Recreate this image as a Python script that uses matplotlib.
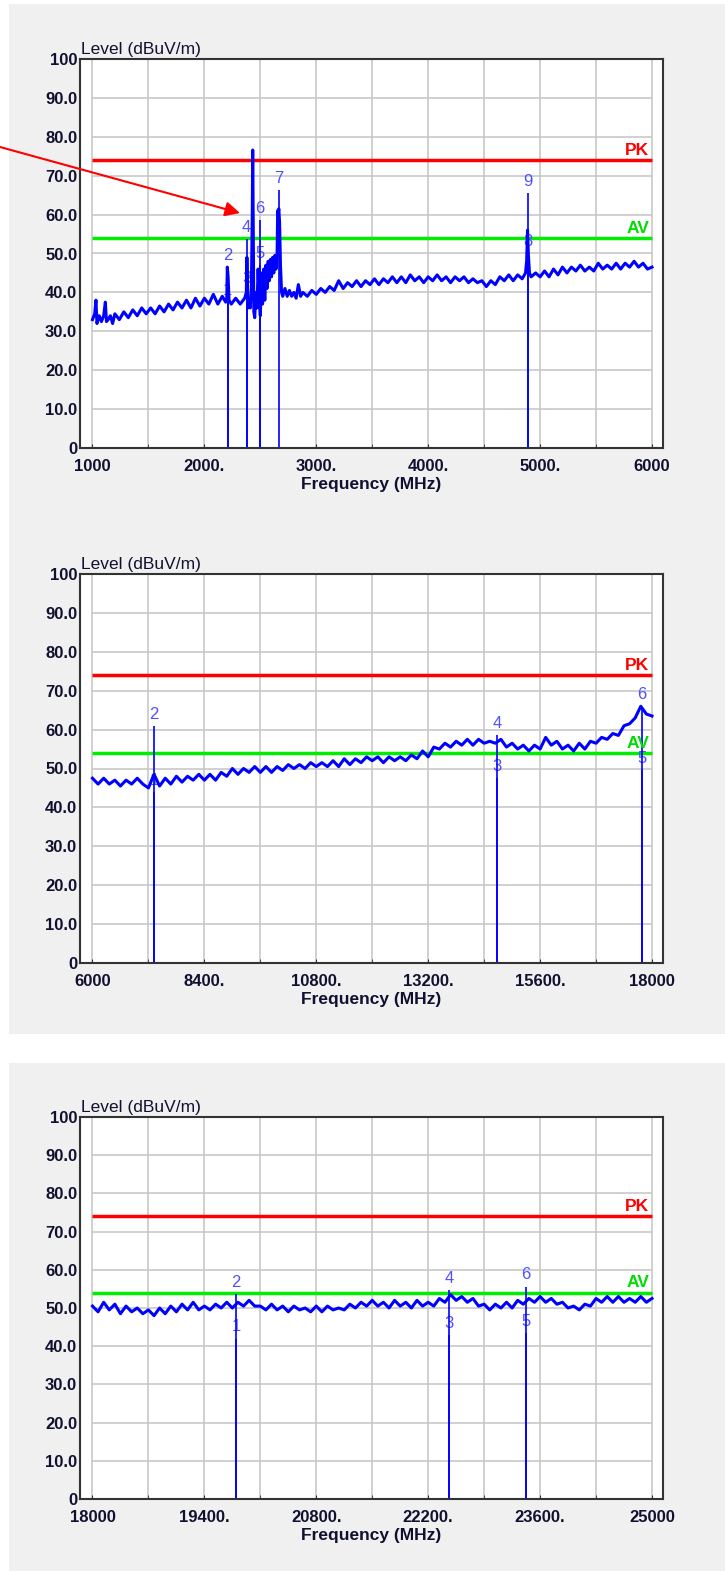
import matplotlib
matplotlib.use('Agg')
from matplotlib import pyplot as plt
from matplotlib.patches import Rectangle
import numpy as np

# %% Data

# Panel 1 : 1 - 6 GHz (irregular sampling, detail around the carrier)
freq1 = [1000, 1020, 1031, 1040, 1060, 1080, 1100, 1115, 1125, 1140, 1160, 1180, 1200, 1240, 1280,
         1320, 1360, 1400, 1440, 1480, 1520, 1560, 1600, 1640, 1680, 1720, 1760, 1800, 1840,
         1880, 1920, 1960, 2000, 2040, 2080, 2120, 2160, 2190, 2200, 2205, 2212, 2220, 2240,
         2280, 2320, 2360, 2375, 2380, 2385, 2390, 2400, 2410, 2420, 2428, 2432, 2436, 2442,
         2450, 2460, 2470, 2480, 2490, 2500, 2510, 2520, 2530, 2540, 2550, 2560, 2570, 2580,
         2590, 2600, 2610, 2620, 2630, 2640, 2650, 2655, 2660, 2665, 2672, 2680, 2690, 2700,
         2720, 2740, 2760, 2780, 2800, 2820, 2840, 2860, 2880, 2920, 2960, 3000, 3040, 3080,
         3120, 3160, 3200, 3240, 3280, 3320, 3360, 3400, 3440, 3480, 3520, 3560, 3600, 3640,
         3680, 3720, 3760, 3800, 3840, 3880, 3920, 3960, 4000, 4040, 4080, 4120, 4160, 4200,
         4240, 4280, 4320, 4360, 4400, 4440, 4480, 4520, 4560, 4600, 4640, 4680, 4720, 4760,
         4800, 4840, 4870, 4880, 4888, 4895, 4905, 4920, 4960, 5000, 5040, 5080, 5120, 5160,
         5200, 5240, 5280, 5320, 5360, 5400, 5440, 5480, 5520, 5560, 5600, 5640, 5680, 5720,
         5760, 5800, 5840, 5880, 5920, 5960, 6000]
level1 = [33, 34.5, 38, 32, 34, 32.5, 34, 37.5, 32.5, 33, 34, 32, 34.5, 33, 35,
          33.5, 35.5, 34, 36, 34.5, 36, 34.5, 36.5, 35, 37, 35.5, 37.5, 36, 38,
          36, 38.5, 36.5, 38.5, 37, 39.5, 37, 39, 37.5, 38, 46.5, 44, 38, 37,
          38.5, 37, 38.5, 40, 49, 42, 36, 38, 36, 41, 60, 76.6, 60, 35,
          33.5, 40, 36, 46, 38, 34, 45, 37, 46, 38, 47, 41, 48, 43,
          48.5, 44, 49, 45, 49.5, 46, 50, 61, 60, 61.5, 58, 47, 40, 39,
          41, 39, 40.5, 39, 40, 38.5, 42, 39, 40, 39, 40.5, 39.5, 41, 40,
          41.5, 40.5, 43, 41, 42.5, 41.5, 43, 41.5, 43, 42, 43.5, 42, 43.5, 42.5,
          44, 42.5, 44, 42.5, 44.5, 43, 44, 42.5, 44, 43, 44.5, 43, 44, 42.5,
          44, 43, 44, 42.5, 43.5, 42.5, 43, 41.5, 43, 42, 44, 43, 44.5, 43,
          44.5, 43.5, 45, 48, 56, 50, 45, 44, 45, 44, 45.5, 44, 46, 44.5,
          46.5, 45, 46.5, 45.5, 47, 45.5, 46.5, 45.5, 47.5, 46, 47, 46, 47.5, 46,
          47.5, 46.5, 48, 46.5, 47.5, 46, 46.5]

# Panel 2 : 6 - 18 GHz sweep
sweep2 = (6000, 18000)
level2 = [47.5, 46, 47.5, 46, 47, 45.5, 47, 46, 47.5, 46,
          45, 48.5, 45.5, 47.5, 46, 48, 46.5, 48, 47, 48.5,
          47, 48.5, 47, 49, 48, 50, 48.5, 50, 49, 50.5,
          49, 50.5, 49, 50.5, 49.5, 51, 50, 51, 50, 51.5,
          50.5, 51.5, 50.5, 52, 50.5, 52.5, 51, 52.5, 51.5, 53,
          52, 53, 51.5, 53, 52, 53, 52, 53.5, 52.5, 54.5,
          53, 55.5, 55, 56.5, 55.5, 57, 56, 57.5, 56, 57.5,
          56.5, 57, 56.5, 57.5, 55.5, 56.5, 55, 56, 54.5, 56,
          55, 58, 56, 57, 55, 56, 54.5, 56.5, 55, 57,
          56.5, 58, 57.5, 59, 58.5, 61, 61.5, 63, 66, 64, 63.5]

# Panel 3 : 18 - 25 GHz sweep
sweep3 = (18000, 25000)
level3 = [50.5, 49, 51.5, 49.5, 51, 48.5, 50.5, 49, 50, 48.5,
          49.5, 48, 50, 48.5, 50.5, 49, 51, 49.5, 51.5, 49.5,
          50.5, 49.5, 51, 50, 51.5, 50, 51.5, 50.5, 52, 50.5,
          50.5, 49.5, 51, 49.5, 50.5, 49, 50.5, 49.5, 50, 49,
          50.5, 49, 50.5, 49.5, 50, 49.5, 51, 50, 51.5, 50.5,
          52, 50.5, 51.5, 50, 52, 50.5, 51.5, 50, 52, 50.5,
          51.5, 50.5, 52.5, 51.5, 53.5, 52, 53, 51.5, 52.5, 50.5,
          51, 49.5, 51, 50, 51.5, 50, 52, 51, 52.5, 51.5,
          53, 51.5, 52.5, 51, 51.5, 50, 50.5, 49.5, 51, 50.5,
          52.5, 51.5, 53, 51.5, 53, 51.5, 52.5, 51.5, 53, 51.5, 52.5]

# Markers (number, frequency, level)
mark1 = ([1, 2, 3, 4, 5, 6, 7, 8, 9],
         [2208, 2208, 2378, 2378, 2497, 2497, 2667, 4889, 4889],
         [37.5, 46.6, 40.5, 53.7, 47.0, 58.6, 66.3, 50.0, 65.6])
mark2 = ([1, 2, 3, 4, 5, 6],
         [7319, 7319, 14675, 14675, 17784, 17784],
         [44.0, 61.0, 47.5, 58.5, 49.5, 65.9])
mark3 = ([1, 2, 3, 4, 5, 6],
         [19798, 19798, 22465, 22465, 23425, 23425],
         [42.0, 53.7, 43.0, 54.7, 43.5, 55.6])

# Limits
pkLimit = 74
avLimit = 54

xtick1 = ['1000', '2000.', '3000.', '4000.', '5000.', '6000']
xtick2 = ['6000', '8400.', '10800.', '13200.', '15600.', '18000']
xtick3 = ['18000', '19400.', '20800.', '22200.', '23600.', '25000']
yvals = [0, 10, 20, 30, 40, 50, 60, 70, 80, 90, 100]
ylabels = ['0', '10.0', '20.0', '30.0', '40.0', '50.0', '60.0', '70.0', '80.0', '90.0', '100']

# %% Figure

W, H = 725, 1571
fig = plt.figure(figsize=(W/100, H/100), dpi=100)
fig.patch.set_facecolor('white')
for y0, y1 in [(4, 1034), (1063, H)]:
    fig.add_artist(Rectangle((9/W, 1-y1/H), 1, (y1-y0)/H, transform=fig.transFigure,
                             facecolor='#f0f0f0', edgecolor='none', zorder=-10))

txtCol = '#101030'
font = 'Liberation Sans'

def panel(top, bottom, freq, level, marks, xlabels):

    ax = fig.add_axes([80/W, 1-bottom/H, 583/W, (bottom-top)/H])
    ax.set_facecolor('white')
    xv = [float(s.rstrip('.')) for s in xlabels]
    f0, f1 = xv[0], xv[-1]
    span = f1-f0
    ax.set_xlim(f0-0.0223*span, f1+0.0197*span)
    ax.set_ylim(0, 100)

    # grid restricted to the sweep
    gx = np.linspace(f0, f1, 11)
    ax.vlines(gx, 0, 100, color='#c8c8c8', lw=1.2, zorder=1)
    ax.hlines(yvals[1:], f0, f1, color='#c8c8c8', lw=1.2, zorder=1)

    # limit lines
    ax.hlines(pkLimit, f0, f1, color='#ff0000', lw=2.5, zorder=2)
    ax.hlines(avLimit, f0, f1, color='#00ee00', lw=2.5, zorder=2)
    ax.text(f1-0.005*span, pkLimit+0.6, 'PK', color='#ff0000', ha='right', va='bottom',
            fontsize=12.5, fontweight='bold', family=font, zorder=5)
    ax.text(f1-0.005*span, avLimit+0.6, 'AV', color='#00dd00', ha='right', va='bottom',
            fontsize=12.5, fontweight='bold', family=font, zorder=5)

    # markers
    for n, f, v in zip(*marks):
        ax.vlines(f, 0, v, color='#0000ff', lw=1.2, zorder=3)
        ax.annotate(str(n), (f, v), xytext=(0, 3), textcoords='offset points',
                    ha='center', va='bottom', color='#5050ff', fontsize=12,
                    family=font, zorder=2.5)

    # trace
    ax.plot(freq, level, color='#0000ff', lw=2.2, zorder=4)

    ax.set_xticks(xv)
    ax.set_xticklabels(xlabels)
    ax.set_xticks(gx, minor=True)
    ax.set_yticks(yvals)
    ax.set_yticklabels(ylabels)
    ax.tick_params(axis='x', which='both', direction='in', length=3, pad=8, colors='#333333')
    ax.tick_params(axis='y', length=0, pad=2)
    for lab in ax.get_xticklabels() + ax.get_yticklabels():
        lab.set_fontweight('bold')
        lab.set_fontsize(12)
        lab.set_family(font)
        lab.set_color(txtCol)
    for sp in ax.spines.values():
        sp.set_color('#333333')
        sp.set_linewidth(1.5)
        sp.set_zorder(6)

    ax.set_xlabel('Frequency (MHz)', fontsize=12.5, fontweight='bold', family=font,
                  color=txtCol, labelpad=2)
    ax.annotate('Level (dBuV/m)', (0, 1), xycoords='axes fraction', xytext=(1, 2),
                textcoords='offset pixels', ha='left', va='bottom', fontsize=12.5,
                family=font, color=txtCol)
    return ax

ax1 = panel(59, 448, freq1, level1, mark1, xtick1)
ax2 = panel(574, 963, np.linspace(*sweep2, len(level2)), level2, mark2, xtick2)
ax3 = panel(1117, 1499, np.linspace(*sweep3, len(level3)), level3, mark3, xtick3)

# red arrow pointing at the carrier
ax1.annotate('', xy=(2318, 60.4), xytext=(0, 1-147/H), textcoords='figure fraction',
             arrowprops=dict(arrowstyle='-|>', color='#ff0000', lw=1.5, mutation_scale=22,
                             shrinkA=0, shrinkB=0), annotation_clip=False, zorder=7)

fig.savefig('out.png', dpi=100)
